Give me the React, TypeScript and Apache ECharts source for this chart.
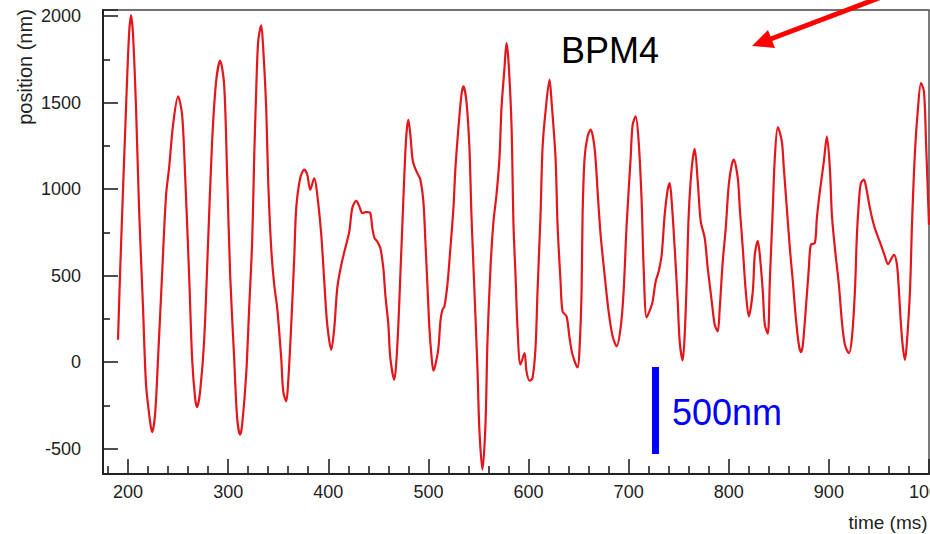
import React, { useEffect, useRef } from "react";
import * as echarts from "echarts";

// time (ms)
const times: number[] = [
  190, 192, 195, 198, 201, 203, 205, 208, 211, 215, 218, 222, 224, 227, 230, 234, 238, 241, 245, 250,
  254, 257, 261, 264, 267, 269, 272, 276, 280, 284, 288, 292, 296, 299, 302, 306, 309, 312, 314, 318,
  321, 324, 326, 328, 330, 333, 335, 338, 340, 343, 346, 349, 353, 355, 358, 360, 363, 366, 368, 372,
  376, 379, 382, 386, 389, 393, 396, 399, 403, 406, 409, 413, 417, 421, 424, 428, 431, 434, 437, 439,
  442, 444, 446, 449, 452, 455, 457, 460, 462, 466, 468, 470, 472, 474, 476, 478, 480, 482, 484, 486,
  489, 492, 495, 497, 499, 501, 503, 505, 507, 510, 512, 514, 516, 519, 522, 525, 527, 530, 533, 535,
  538, 541, 543, 546, 549, 551, 554, 557, 559, 562, 565, 568, 571, 573, 576, 578, 580, 583, 585, 587,
  589, 592, 596, 598, 601, 604, 607, 609, 612, 614, 617, 621, 623, 627, 629, 632, 634, 638, 641, 644,
  649, 651, 653, 654, 656, 659, 662, 666, 669, 672, 676, 680, 684, 688, 692, 695, 698, 702, 704, 707,
  710, 713, 715, 718, 722, 724, 727, 730, 733, 736, 739, 741, 743, 746, 749, 751, 754, 756, 758, 760,
  763, 766, 769, 772, 776, 779, 783, 786, 789, 791, 794, 797, 800, 803, 805, 809, 811, 814, 817, 820,
  824, 826, 829, 831, 834, 836, 839, 841, 844, 846, 849, 853, 855, 858, 861, 864, 867, 870, 872, 874,
  877, 880, 882, 886, 888, 891, 895, 898, 901, 903, 906, 910, 913, 916, 920, 923, 926, 928, 930, 932,
  935, 937, 941, 944, 947, 952, 956, 959, 965, 968, 970, 972, 974, 976, 978, 981, 983, 986, 989, 992,
  995, 997, 1000,
];

// position (nm)
const positions: number[] = [
  129, 505, 996, 1468, 1892, 2004, 1892, 1468, 890, 312, -131, -343, -405, -304, 23, 505, 967, 1121, 1372, 1536,
  1430, 1083, 505, 23, -208, -260, -169, 120, 698, 1276, 1622, 1742, 1603, 1083, 505, 23, -324, -420, -362, -73,
  312, 698, 1179, 1565, 1854, 1946, 1815, 1468, 1044, 659, 447, 312, 23, -169, -227, -112, 216, 601, 890, 1064,
  1112, 1083, 996, 1064, 967, 736, 466, 216, 71, 197, 428, 562, 659, 755, 890, 932, 900, 861, 867, 867,
  861, 775, 720, 695, 659, 543, 389, 216, 23, -102, 4, 216, 505, 794, 1083, 1314, 1400, 1314, 1179, 1131,
  1092, 1054, 929, 698, 447, 197, 42, -50, -16, 81, 235, 302, 322, 447, 659, 890, 1121, 1353, 1545, 1593,
  1507, 1237, 851, 409, -35, -400, -622, -362, 120, 543, 813, 967, 1179, 1468, 1699, 1844, 1738, 1372, 794, 505,
  197, -15, 52, -54, -108, -92, 81, 409, 851, 1237, 1449, 1632, 1507, 1179, 794, 466, 293, 264, 139, 42,
  -31, 81, 409, 851, 1179, 1304, 1343, 1237, 987, 736, 505, 293, 149, 91, 197, 409, 794, 1179, 1372, 1420,
  1276, 929, 543, 258, 312, 351, 466, 524, 620, 851, 996, 1035, 929, 659, 351, 120, 10, 158, 466, 851,
  1121, 1233, 1044, 813, 717, 543, 351, 216, 177, 312, 582, 775, 1025, 1140, 1170, 1064, 890, 659, 409, 264,
  409, 620, 701, 620, 409, 216, 164, 466, 890, 1179, 1358, 1276, 1121, 890, 659, 466, 254, 100, 58, 100,
  312, 543, 678, 688, 832, 987, 1160, 1304, 1121, 851, 659, 447, 235, 100, 52, 139, 409, 736, 929, 1035,
  1054, 1016, 890, 813, 755, 678, 611, 566, 620, 562, 409, 216, 81, 13, 120, 409, 794, 1218, 1468, 1613,
  1562, 1276, 793,
];

const xLabelStep = 100;
const yLabelStep = 500;

const FONT = "'Liberation Sans', Arial, Helvetica, sans-serif";

export default function App() {
  const ref = useRef<HTMLDivElement>(null);

  useEffect(() => {
    if (!ref.current) return;
    const chart = echarts.init(ref.current, undefined, { renderer: "svg" });
    const data = times.map((t, i) => [t, positions[i]]);

    chart.setOption({
      animation: false,
      backgroundColor: "#ffffff",
      grid: {
        left: 103,
        right: 1,
        top: 10,
        bottom: 60,
        containLabel: false,
        outerBoundsMode: "none",
        show: true,
        borderColor: "#444",
        borderWidth: 1.4,
        backgroundColor: "transparent",
      },
      xAxis: {
        type: "value",
        min: 175,
        max: 1000,
        splitNumber: 8,
        axisLine: { show: true, onZero: false, lineStyle: { color: "#222", width: 2 } },
        axisTick: { show: true, inside: true, length: 15, lineStyle: { color: "#222", width: 1.6 } },
        minorTick: { show: true, splitNumber: 5, length: 8, lineStyle: { color: "#222", width: 1.6 } },
        splitLine: { show: false },
        minorSplitLine: { show: false },
        axisLabel: {
          margin: 9,
          color: "#222",
          fontSize: 18,
          fontFamily: FONT,
          hideOverlap: false,
          formatter: (v: number) => (v % xLabelStep === 0 ? String(v) : ""),
        },
      },
      yAxis: {
        type: "value",
        min: -647,
        max: 2035,
        splitNumber: 5,
        axisLine: { show: true, onZero: false, lineStyle: { color: "#222", width: 2 } },
        axisTick: { show: true, inside: true, length: 15, lineStyle: { color: "#222", width: 1.6 } },
        minorTick: { show: true, splitNumber: 2, length: 7, lineStyle: { color: "#222", width: 1.6 } },
        splitLine: { show: false },
        minorSplitLine: { show: false },
        axisLabel: {
          margin: 22,
          color: "#222",
          fontSize: 18,
          fontFamily: FONT,
          formatter: (v: number) => (v % yLabelStep === 0 ? String(v) : ""),
        },
      },
      series: [
        {
          type: "line",
          data,
          smooth: 0.3,
          showSymbol: false,
          symbol: "none",
          clip: true,
          lineStyle: { color: "#e3161c", width: 2.2 },
        },
      ],
      graphic: [
        {
          type: "text",
          x: 25,
          y: 67,
          rotation: Math.PI / 2,
          style: {
            text: "position (nm)",
            fontSize: 20,
            fontFamily: FONT,
            fill: "#222",
            textAlign: "center",
            textVerticalAlign: "middle",
          },
        },
        {
          type: "text",
          x: 888,
          y: 522,
          style: {
            text: "time (ms)",
            fontSize: 19,
            fontFamily: FONT,
            fill: "#222",
            textAlign: "center",
            textVerticalAlign: "middle",
          },
        },
        {
          type: "text",
          x: 561,
          y: 50,
          style: {
            text: "BPM4",
            fontSize: 36,
            fontFamily: FONT,
            fill: "#000",
            textAlign: "left",
            textVerticalAlign: "middle",
          },
        },
        {
          type: "rect",
          shape: { x: 652, y: 367, width: 7, height: 87 },
          style: { fill: "#0000ff" },
        },
        {
          type: "text",
          x: 672,
          y: 412,
          style: {
            text: "500nm",
            fontSize: 36,
            fontFamily: FONT,
            fill: "#0000ff",
            textAlign: "left",
            textVerticalAlign: "middle",
          },
        },
        {
          type: "line",
          shape: { x1: 768, y1: 40, x2: 892, y2: -7 },
          style: { stroke: "#ff0000", lineWidth: 5 },
        },
        {
          type: "polygon",
          shape: { points: [[752, 46], [768, 30], [775, 48]] },
          style: { fill: "#ff0000" },
        },
      ],
    });

    return () => {
      chart.dispose();
    };
  }, []);

  return (
    <div
      ref={ref}
      style={{ position: "fixed", left: 0, top: 0, width: 930, height: 534, background: "#fff" }}
    />
  );
}
